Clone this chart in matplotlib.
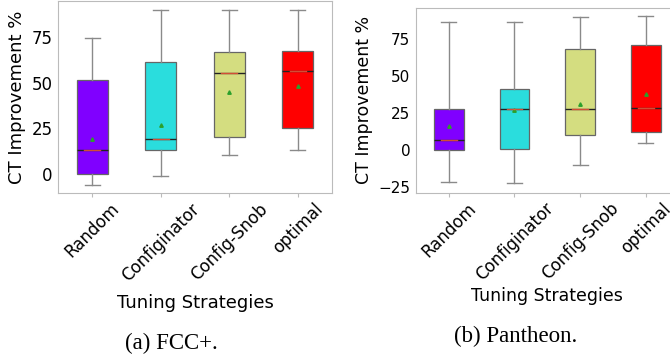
import matplotlib.pyplot as plt
import numpy as np

strategies = ["Random", "Configinator", "Config-Snob", "optimal"]

# FCC+ (left)
fcc_low = [-6.2, -1.3, 10.1, 12.9]
fcc_q1 = [0.0, 12.9, 20.4, 25.2]
fcc_med = [13.2, 19.3, 55.4, 56.4]
fcc_mean = [19.3, 27.0, 45.2, 48.3]
fcc_q3 = [51.6, 61.7, 67.0, 67.7]
fcc_high = [74.5, 90.0, 90.0, 90.0]

# Pantheon (right)
pan_low = [-21.6, -22.3, -9.9, 4.7]
pan_q1 = [0.0, 1.1, 10.5, 12.2]
pan_med = [6.8, 27.7, 27.7, 28.4]
pan_mean = [16.6, 27.2, 31.1, 38.0]
pan_q3 = [28.1, 41.4, 68.2, 70.9]
pan_high = [86.5, 86.5, 89.9, 90.5]

colors = plt.cm.rainbow(np.linspace(0, 1, len(strategies)))


def draw(ax, low, q1, med, mean, q3, high, ylim, yticks, tick_fs, label_fs, xlabel_fs, xpad):
    stats = []
    for i, name in enumerate(strategies):
        stats.append({"label": name, "whislo": low[i], "q1": q1[i], "med": med[i],
                      "mean": mean[i], "q3": q3[i], "whishi": high[i], "fliers": []})
    pos = np.arange(1, len(strategies) + 1)
    bp = ax.bxp(stats, positions=pos, widths=0.45, patch_artist=True, showmeans=True,
                showfliers=False,
                boxprops=dict(edgecolor="#666666", linewidth=0.9),
                whiskerprops=dict(color="#8a8a8a", linewidth=1),
                capprops=dict(color="#8a8a8a", linewidth=1),
                medianprops=dict(color="#222222", linewidth=1),
                meanprops=dict(marker="^", markerfacecolor="#2ca02c",
                               markeredgecolor="#2ca02c", markersize=2.5))
    for patch, c in zip(bp["boxes"], colors):
        patch.set_facecolor(c)
    # reddish centre of the median line
    for i in range(len(strategies)):
        ax.plot([pos[i] - 0.12, pos[i] + 0.12], [med[i], med[i]], color="#ff5a3c",
                lw=1, alpha=0.8, zorder=4)
    ax.set_xlim(0.5, 4.5)
    ax.set_ylim(*ylim)
    ax.set_yticks(yticks)
    ax.set_xticks(pos)
    ax.set_xticklabels(strategies, rotation=45, ha="center", fontsize=12)
    ax.tick_params(axis="y", labelsize=tick_fs, length=0, pad=4)
    ax.tick_params(axis="x", length=3, color="#bbbbbb", pad=2)
    for s in ax.spines.values():
        s.set_color("#bbbbbb")
    ax.set_ylabel("CT Improvement %", fontsize=label_fs)
    ax.set_xlabel("Tuning Strategies", fontsize=xlabel_fs, labelpad=xpad)


fig = plt.figure(figsize=(6.7, 3.58), dpi=100)
ax1 = fig.add_axes([58 / 670, 165 / 358, 274 / 670, 192 / 358])
ax2 = fig.add_axes([416 / 670, 165.5 / 358, 262.6 / 670, 184.2 / 358])

draw(ax1, fcc_low, fcc_q1, fcc_med, fcc_mean, fcc_q3, fcc_high,
     (-10.6, 95), [0, 25, 50, 75], 12, 13, 13, 7)
draw(ax2, pan_low, pan_q1, pan_med, pan_mean, pan_q3, pan_high,
     (-28.4, 96), [-25, 0, 25, 50, 75], 11, 12.5, 12.5, 2)

fig.text(171.7 / 670, 1 - 343 / 358, "(a) FCC+.", family="Liberation Serif",
         fontsize=16.5, ha="center", va="center")
fig.text(515.8 / 670, 1 - 336.7 / 358, "(b) Pantheon.", family="Liberation Serif",
         fontsize=16.5, ha="center", va="center")

fig.savefig("out.png", dpi=100)
